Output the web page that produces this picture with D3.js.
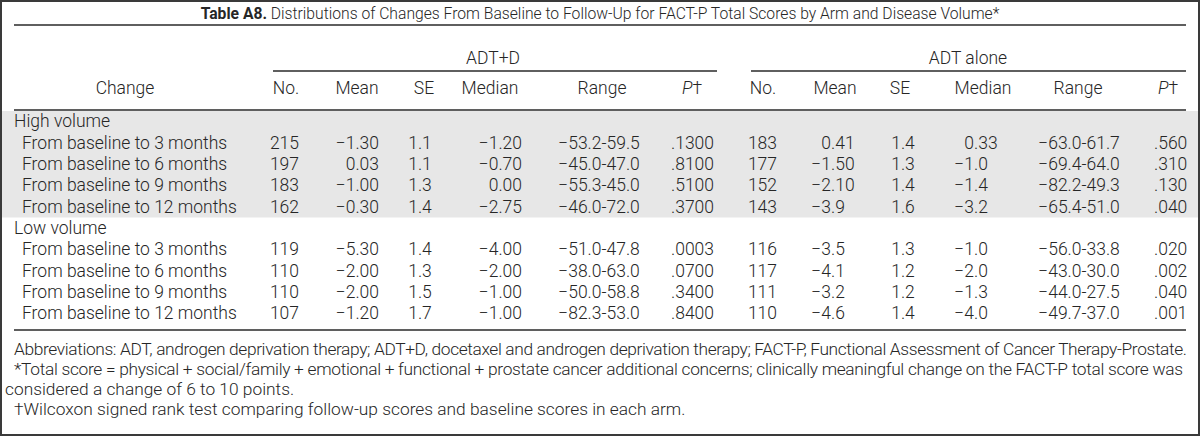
<!DOCTYPE html>
<html>
<head>
<meta charset="utf-8">
<script src="https://cdn.jsdelivr.net/npm/d3@7"></script>
<style>
  html, body { margin: 0; padding: 0; background: #fff; }
  svg { display: block; }
  text { font-family: Roboto, "Liberation Sans", Arial, sans-serif; font-weight: 300; fill: #262626; }
</style>
</head>
<body>
<svg id="chart" width="1200" height="436"></svg>
<script>
// ---------------- DATA ----------------
const titleBold = "Table A8.";
const titleRest = " Distributions of Changes From Baseline to Follow-Up for FACT-P Total Scores by Arm and Disease Volume*";
const arms = ["ADT+D", "ADT alone"];
const columnHeads = ["No.", "Mean", "SE", "Median", "Range", "P"];
const groups = ["High volume", "Low volume"];
const changes = ["From baseline to 3 months", "From baseline to 6 months", "From baseline to 9 months", "From baseline to 12 months"];

// ADT+D (rows: high 3,6,9,12 then low 3,6,9,12)
const adtdNo     = ["215", "197", "183", "162", "119", "110", "110", "107"];
const adtdMean   = ["−1.30", "0.03", "−1.00", "−0.30", "−5.30", "−2.00", "−2.00", "−1.20"];
const adtdSE     = ["1.1", "1.1", "1.3", "1.4", "1.4", "1.3", "1.5", "1.7"];
const adtdMedian = ["−1.20", "−0.70", "0.00", "−2.75", "−4.00", "−2.00", "−1.00", "−1.00"];
const adtdRange  = ["−53.2-59.5", "−45.0-47.0", "−55.3-45.0", "−46.0-72.0", "−51.0-47.8", "−38.0-63.0", "−50.0-58.8", "−82.3-53.0"];
const adtdP      = [".1300", ".8100", ".5100", ".3700", ".0003", ".0700", ".3400", ".8400"];

// ADT alone
const adtNo     = ["183", "177", "152", "143", "116", "117", "111", "110"];
const adtMean   = ["0.41", "−1.50", "−2.10", "−3.9", "−3.5", "−4.1", "−3.2", "−4.6"];
const adtSE     = ["1.4", "1.3", "1.4", "1.6", "1.3", "1.2", "1.2", "1.4"];
const adtMedian = ["0.33", "−1.0", "−1.4", "−3.2", "−1.0", "−2.0", "−1.3", "−4.0"];
const adtRange  = ["−63.0-61.7", "−69.4-64.0", "−82.2-49.3", "−65.4-51.0", "−56.0-33.8", "−43.0-30.0", "−44.0-27.5", "−49.7-37.0"];
const adtP      = [".560", ".310", ".130", ".040", ".020", ".002", ".040", ".001"];

const footnotes = [
  "Abbreviations: ADT, androgen deprivation therapy; ADT+D, docetaxel and androgen deprivation therapy; FACT-P, Functional Assessment of Cancer Therapy-Prostate.",
  "*Total score = physical + social/family + emotional + functional + prostate cancer additional concerns; clinically meaningful change on the FACT-P total score was",
  "considered a change of 6 to 10 points.",
  "†Wilcoxon signed rank test comparing follow-up scores and baseline scores in each arm."
];
const footIndent = [true, true, false, true];
const footJustified = [true, true, false, false];

// ---------------- LAYOUT ----------------
const W = 1200, H = 436;
const svg = d3.select("#chart");
const left = 14, right = 1186;

// Outer border
svg.append("rect").attr("x", 1).attr("y", 1).attr("width", W - 2).attr("height", H - 2)
  .attr("fill", "none").attr("stroke", "#3a3a3a").attr("stroke-width", 2);

// Calibrate font size with the abbreviations line
const probe = svg.append("text").attr("font-size", 15).text(footnotes[0]);
const fs0 = 15 * 1172 / probe.node().getComputedTextLength();
probe.remove();
const fs = fs0 * 1.06;

// Rows: label rows in table body
const bodyRows = [];
groups.forEach((g, gi) => {
  bodyRows.push({ type: "group", label: g });
  changes.forEach((c, ci) => bodyRows.push({ type: "row", label: c, idx: gi * 4 + ci }));
});
const y = d3.scalePoint().domain(d3.range(bodyRows.length)).range([121, 313]);

// Shading for high volume
const step = y.step();
svg.append("rect").attr("x", 2).attr("width", W - 4)
  .attr("y", 111).attr("height", y(4) + step / 2 - 111 + 0.5)
  .attr("fill", "#e7e7e7");

// Title
const t = svg.append("text").attr("x", W / 2).attr("y", 19).attr("text-anchor", "middle").attr("font-size", fs0 * 0.95);
t.append("tspan").attr("font-weight", 700).text(titleBold);
t.append("tspan").text(titleRest);

// Rules
const rule = (y0, x0, x1, w) => svg.append("line").attr("x1", x0).attr("x2", x1).attr("y1", y0).attr("y2", y0)
  .attr("stroke", "#2a2a2a").attr("stroke-width", w);
rule(25, left, right, 1.5);
rule(110, left, right, 1.5);
rule(330, left, right, 1.5);
rule(71, 273, 717, 1.3);
rule(71, 751, right, 1.3);

// Arm labels
const armX = d3.scaleOrdinal().domain(arms).range([493, 968]);
arms.forEach(a => svg.append("text").attr("x", armX(a)).attr("y", 64).attr("text-anchor", "middle")
  .attr("font-size", fs).text(a));

// Column headers
const headX = [[286, 357, 424, 490, 602, 692], [763, 835, 900, 983, 1078, 1168]];
svg.append("text").attr("x", 125).attr("y", 94).attr("text-anchor", "middle").attr("font-size", fs).text("Change");
headX.forEach(hx => {
  columnHeads.forEach((h, i) => {
    const tx = svg.append("text").attr("x", hx[i]).attr("y", 94).attr("text-anchor", "middle").attr("font-size", fs);
    if (h === "P") {
      tx.append("tspan").attr("font-style", "italic").text("P");
      tx.append("tspan").text("†");
    } else tx.text(h);
  });
});

// Column definitions: x anchor and alignment
const cols = [
  { data: adtdNo, x: 299, align: "end" },
  { data: adtdMean, x: 379, align: "end" },
  { data: adtdSE, x: 420, align: "middle" },
  { data: adtdMedian, x: 522, align: "end" },
  { data: adtdRange, x: 599, align: "middle" },
  { data: adtdP, x: 671, align: "start" },
  { data: adtNo, x: 777, align: "end" },
  { data: adtMean, x: 831, align: "decimal" },
  { data: adtSE, x: 903, align: "middle" },
  { data: adtMedian, x: 974, align: "decimal" },
  { data: adtRange, x: 1079, align: "middle" },
  { data: adtP, x: 1154, align: "start" }
];

const baseOff = fs * 0.36;
bodyRows.forEach((r, ri) => {
  const yy = y(ri) + baseOff;
  svg.append("text").attr("x", r.type === "group" ? 14 : 22).attr("y", yy).attr("font-size", fs).text(r.label);
  if (r.type !== "row") return;
  cols.forEach(c => {
    const v = c.data[r.idx];
    if (c.align === "decimal") {
      const k = v.indexOf(".");
      svg.append("text").attr("x", c.x).attr("y", yy).attr("text-anchor", "end").attr("font-size", fs).text(v.slice(0, k));
      svg.append("text").attr("x", c.x).attr("y", yy).attr("text-anchor", "start").attr("font-size", fs).text(v.slice(k));
    } else {
      svg.append("text").attr("x", c.x).attr("y", yy).attr("text-anchor", c.align).attr("font-size", fs).text(v);
    }
  });
});

// Footnotes (first two lines justified to the table width, as typeset)
const ffs = fs0 * 1.05;
const fy = d3.scalePoint().domain(d3.range(footnotes.length)).range([349, 409]);
footnotes.forEach((f, i) => {
  const x0 = footIndent[i] ? 14 : 5;
  const tx = svg.append("text").attr("x", x0).attr("y", fy(i) + ffs * 0.36)
    .attr("font-size", ffs).text(f);
  if (footJustified[i]) tx.attr("textLength", (i === 0 ? 1187 : 1183) - x0).attr("lengthAdjust", "spacing");
});
</script>
</body>
</html>
